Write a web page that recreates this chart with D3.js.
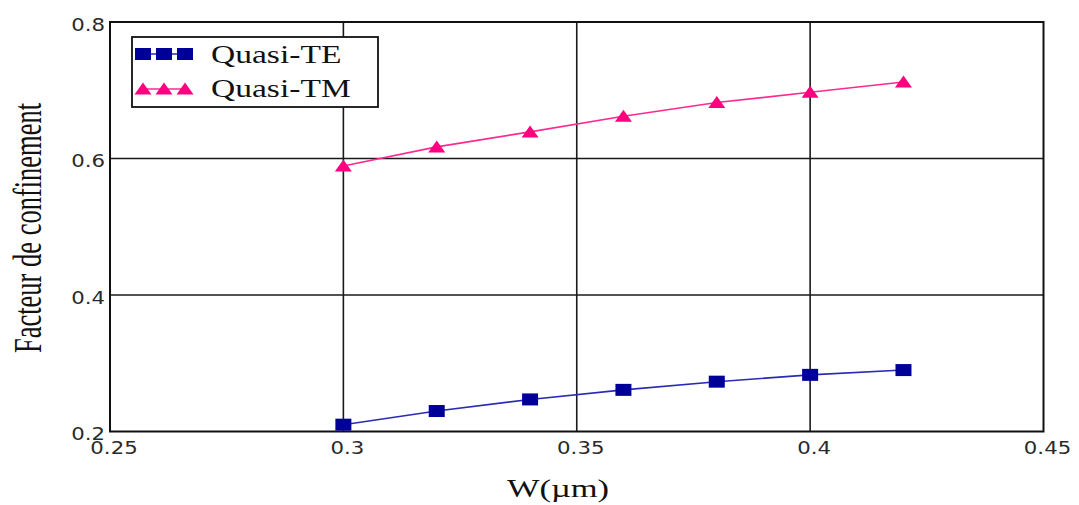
<!DOCTYPE html>
<html>
<head>
<meta charset="utf-8">
<script src="https://cdn.jsdelivr.net/npm/d3@7"></script>
<style>
  html, body { margin: 0; padding: 0; background: #fff; }
  svg { display: block; }
</style>
</head>
<body>
<svg id="chart" width="1079" height="505"></svg>
<script>
// Confinement factor versus waveguide width W
const widths = [0.30, 0.32, 0.34, 0.36, 0.38, 0.40, 0.42];
const quasiTE = [0.210, 0.230, 0.247, 0.261, 0.273, 0.283, 0.290];
const quasiTM = [0.589, 0.617, 0.639, 0.662, 0.682, 0.697, 0.712];
const xTicks = [0.25, 0.3, 0.35, 0.4, 0.45];
const yTicks = [0.2, 0.4, 0.6, 0.8];
const xTickLabels = ["0.25", "0.3", "0.35", "0.4", "0.45"];
const yTickLabels = ["0.2", "0.4", "0.6", "0.8"];
const seriesNames = ["Quasi-TE", "Quasi-TM"];

const teColor = "#000099", teLine = "#2a2ab4";
const tmColor = "#ff0080", tmLine = "#ff2a90";

const svg = d3.select("#chart");
const x = d3.scaleLinear().domain([0.25, 0.45]).range([110, 1043.5]);
const y = d3.scaleLinear().domain([0.2, 0.8]).range([431.5, 22]);

// grid lines (interior only)
const g = svg.append("g");
g.selectAll("line.vg").data(xTicks.slice(1, -1)).join("line")
  .attr("x1", d => x(d)).attr("x2", d => x(d))
  .attr("y1", y(0.8)).attr("y2", y(0.2))
  .attr("stroke", "#1a1a1a").attr("stroke-width", 1.6);
g.selectAll("line.hg").data(yTicks.slice(1, -1)).join("line")
  .attr("x1", x(0.25)).attr("x2", x(0.45))
  .attr("y1", d => y(d)).attr("y2", d => y(d))
  .attr("stroke", "#1a1a1a").attr("stroke-width", 1.6);

// plot frame
g.append("rect")
  .attr("x", x(0.25)).attr("y", y(0.8))
  .attr("width", x(0.45) - x(0.25)).attr("height", y(0.2) - y(0.8))
  .attr("fill", "none").attr("stroke", "#111").attr("stroke-width", 2);

// tick labels
const tickFont = "'DejaVu Sans', Verdana, sans-serif";
svg.append("g").selectAll("text").data(xTicks).join("text")
  .attr("transform", d => `translate(${x(d) + 4},454) scale(1.25,1)`)
  .attr("text-anchor", "middle")
  .attr("font-family", tickFont).attr("font-size", 17).attr("fill", "#2a2a2a")
  .text((d, i) => xTickLabels[i]);
svg.append("g").selectAll("text").data(yTicks).join("text")
  .attr("transform", d => `translate(105,${y(d) + 8.6}) scale(1.25,1)`)
  .attr("text-anchor", "end")
  .attr("font-family", tickFont).attr("font-size", 17).attr("fill", "#2a2a2a")
  .text((d, i) => yTickLabels[i]);

// axis titles
const serif = "'Liberation Serif', 'Times New Roman', serif";
svg.append("text")
  .attr("transform", "translate(558,497) scale(1.38,1)")
  .attr("text-anchor", "middle")
  .attr("font-family", serif).attr("font-size", 25).attr("fill", "#111")
  .text("W(µm)");
svg.append("text")
  .attr("transform", "translate(41,228) scale(1.55,1) rotate(-90)")
  .attr("text-anchor", "middle")
  .attr("font-family", serif).attr("font-size", 26.5).attr("fill", "#111")
  .text("Facteur de confinement");

// series
const line = d3.line().x(d => x(d[0])).y(d => y(d[1]));
const teData = widths.map((w, i) => [w, quasiTE[i]]);
const tmData = widths.map((w, i) => [w, quasiTM[i]]);

function squareMarker(sel, cx, cy) {
  sel.append("rect").attr("x", cx - 8).attr("y", cy - 6)
    .attr("width", 16).attr("height", 12).attr("fill", teColor);
}
function triangleMarker(sel, cx, cy) {
  sel.append("path")
    .attr("d", `M${cx},${cy - 6.5}L${cx + 8.5},${cy + 5.5}L${cx - 8.5},${cy + 5.5}Z`)
    .attr("fill", tmColor);
}

const s = svg.append("g");
s.append("path").datum(teData).attr("d", line)
  .attr("fill", "none").attr("stroke", teLine).attr("stroke-width", 1.6);
s.append("path").datum(tmData).attr("d", line)
  .attr("fill", "none").attr("stroke", tmLine).attr("stroke-width", 1.6);
teData.forEach(d => squareMarker(s, x(d[0]), y(d[1])));
tmData.forEach(d => triangleMarker(s, x(d[0]), y(d[1])));

// legend
const lg = svg.append("g");
lg.append("rect").attr("x", 132).attr("y", 37).attr("width", 246).attr("height", 70)
  .attr("fill", "#fff").attr("stroke", "#111").attr("stroke-width", 1.8);
const rows = [
  { name: seriesNames[0], cy: 54, base: 62.5, color: teLine, marker: squareMarker },
  { name: seriesNames[1], cy: 89, base: 97, color: tmLine, marker: triangleMarker }
];
rows.forEach(r => {
  lg.append("line").attr("x1", 143).attr("x2", 185).attr("y1", r.cy).attr("y2", r.cy)
    .attr("stroke", r.color).attr("stroke-width", 1.6);
  [143, 164, 185].forEach(cx => r.marker(lg, cx, r.cy));
  lg.append("text")
    .attr("transform", `translate(211,${r.base}) scale(1.29,1)`)
    .attr("font-family", serif).attr("font-size", 26).attr("fill", "#111")
    .text(r.name);
});
</script>
</body>
</html>
